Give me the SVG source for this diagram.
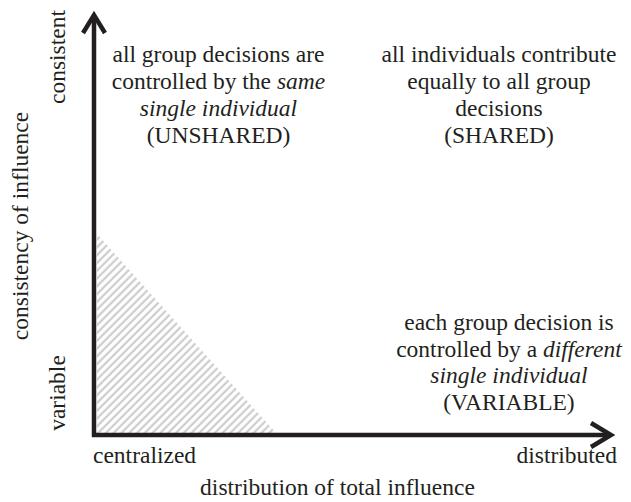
<svg xmlns="http://www.w3.org/2000/svg" width="631" height="502" viewBox="0 0 631 502">
<style>
text{font-family:"Liberation Serif","Times New Roman",serif;font-size:23.5px;fill:#231f20}
.c{text-anchor:middle}
.i{font-style:italic}
.ax{fill:none;stroke:#231f20;stroke-width:4.5}
.hd{fill:none;stroke:#231f20;stroke-width:4.5;stroke-linejoin:miter;stroke-linecap:butt}
</style>
<defs>
<pattern id="hatch" patternUnits="userSpaceOnUse" width="5.5" height="5.5" patternTransform="rotate(45)">
<line x1="1.5" y1="0" x2="1.5" y2="5.5" stroke="#c8c8c8" stroke-width="2"/>
</pattern>
</defs>
<rect width="631" height="502" fill="#fff"/>
<g id="region-hatch">
<polygon points="97,234 97,433 276,433" fill="url(#hatch)"/>
</g>
<g id="connectors">
<path class="ax" d="M94,437 V17"/>
<path class="ax" d="M92,435 H609"/>
<polyline class="hd" points="83,33 94,15 105,33"/>
<polyline class="hd" points="591,423 611,435 591,447"/>
</g>
<g id="unshared">
<text class="c" x="218.5" y="62">all group decisions are</text>
<text class="c" x="218.5" y="89">controlled by the <tspan class="i">same</tspan></text>
<text class="c i" x="218.5" y="116">single individual</text>
<text class="c" x="218.5" y="143">(UNSHARED)</text>
</g>
<g id="shared">
<text class="c" x="499" y="62">all individuals contribute</text>
<text class="c" x="499" y="89">equally to all group</text>
<text class="c" x="499" y="116">decisions</text>
<text class="c" x="499" y="143">(SHARED)</text>
</g>
<g id="variable">
<text class="c" x="509" y="330">each group decision is</text>
<text class="c" x="509" y="356.5">controlled by a <tspan class="i">different</tspan></text>
<text class="c i" x="509" y="383">single individual</text>
<text class="c" x="509" y="409.5">(VARIABLE)</text>
</g>
<g id="x-labels">
<text x="93" y="463">centralized</text>
<text x="617" y="463" text-anchor="end">distributed</text>
<text class="c" x="337.5" y="495">distribution of total influence</text>
</g>
<g id="y-labels">
<text class="c" transform="translate(65,57) rotate(-90)">consistent</text>
<text class="c" transform="translate(28,226) rotate(-90)">consistency of influence</text>
<text class="c" transform="translate(65,393) rotate(-90)">variable</text>
</g>
</svg>
